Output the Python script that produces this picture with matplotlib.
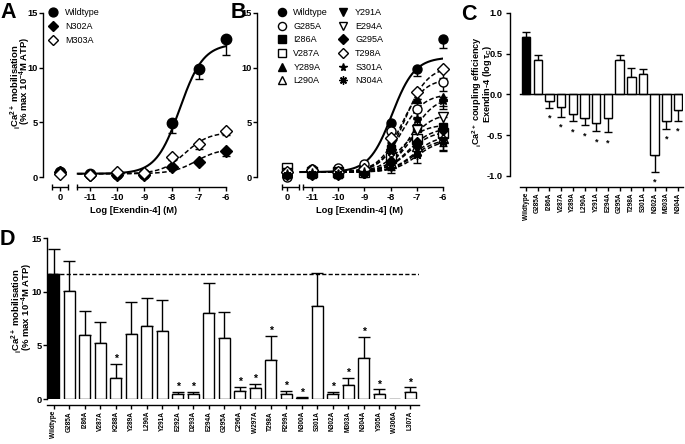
import numpy as np
import matplotlib
matplotlib.use('Agg')
import matplotlib.pyplot as plt

plt.rcParams['font.family'] = ['Liberation Sans', 'DejaVu Sans']
plt.rcParams['font.weight'] = 'bold'
plt.rcParams['mathtext.fontset'] = 'custom'
plt.rcParams['mathtext.rm'] = 'Liberation Sans:bold'
plt.rcParams['mathtext.bf'] = 'Liberation Sans:bold'
plt.rcParams['mathtext.it'] = 'Liberation Sans:bold:italic'
plt.rcParams['mathtext.default'] = 'bf'

# ---------------- data ----------------
log_conc = [-11, -10, -9, -8, -7, -6]
conc_tick_labels = ['0', '-11', '-10', '-9', '-8', '-7', '-6']

# Panel A: values at [basal, -11, -10, -9, -8, -7, -6]
a_names = ['Wildtype', 'N302A', 'M303A']
a_wt = [0.45, 0.25, 0.3, 0.25, 4.9, 9.9, 12.6]
a_wt_err = [0.2, 0.0, 0.0, 0.0, 0.9, 0.9, 1.4]
a_n302 = [0.5, 0.2, 0.2, 0.2, 0.9, 1.4, 2.4]
a_n302_err = [0.0, 0.0, 0.0, 0.0, 0.2, 0.2, 0.5]
a_m303 = [0.3, 0.2, 0.45, 0.4, 1.8, 3.0, 4.2]
a_m303_err = [0.0, 0.0, 0.0, 0.0, 0.2, 0.4, 0.4]
# fitted curve parameters (bottom, top, logEC50)
a_fit_bottom = [0.3, 0.3, 0.3]
a_fit_top = [12.2, 2.6, 4.1]
a_fit_ec50 = [-7.7, -7.1, -7.5]

# Panel B
b_names = ['Wildtype', 'G285A', 'I286A', 'V287A', 'Y289A', 'L290A',
           'Y291A', 'E294A', 'G295A', 'T298A', 'S301A', 'N304A']
b_wt = [0.3, 0.3, 0.3, 0.35, 4.9, 9.9, 12.6]
b_g285 = [0.0, 0.7, 0.8, 1.2, 4.2, 6.2, 8.7]
b_i286 = [0.3, 0.3, 0.3, 0.5, 2.6, 4.5, 4.6]
b_v287 = [0.8, 0.5, 0.5, 0.5, 1.7, 3.5, 4.0]
b_y289 = [0.3, 0.4, 0.3, 0.6, 3.2, 7.1, 7.3]
b_l290 = [0.5, 0.5, 0.5, 0.6, 1.3, 2.8, 3.6]
b_y291 = [0.3, 0.3, 0.3, 0.4, 1.1, 2.6, 3.3]
b_e294 = [0.4, 0.5, 0.4, 0.5, 2.1, 4.3, 5.5]
b_g295 = [0.2, 0.2, 0.2, 0.4, 1.5, 3.2, 4.3]
b_t298 = [0.5, 0.6, 0.5, 0.7, 3.6, 7.8, 9.9]
b_s301 = [0.3, 0.4, 0.3, 0.5, 2.4, 5.3, 7.0]
b_n304 = [0.2, 0.3, 0.3, 0.3, 0.9, 2.0, 3.2]
b_err = [0.0, 0.0, 0.0, 0.0, 0.5, 0.7, 0.8]
b_fit_top = [10.95, 9.0, 4.8, 4.2, 7.6, 3.8, 3.5, 5.8, 4.5, 10.1, 7.3, 3.4]
b_fit_ec50 = [-7.95, -7.6, -7.6, -7.3, -7.6, -7.1, -7.1, -7.3, -7.3, -7.45, -7.2, -7.0]
b_fit_bottom = 0.45

# Panel C
c_labels = ['Wildtype', 'G285A', 'I286A', 'V287A', 'Y289A', 'L290A', 'Y291A',
            'E294A', 'G295A', 'T298A', 'S301A', 'N302A', 'M303A', 'N304A']
c_vals = [0.70, 0.42, -0.08, -0.15, -0.24, -0.29, -0.35, -0.29, 0.42, 0.21, 0.25, -0.74, -0.33, -0.19]
c_err = [0.07, 0.07, 0.08, 0.12, 0.09, 0.09, 0.10, 0.17, 0.07, 0.12, 0.06, 0.21, 0.09, 0.13]
c_sig = [0, 0, 1, 1, 1, 1, 1, 1, 0, 0, 0, 1, 1, 1]

# Panel D
d_labels = ['Wildtype', 'G285A', 'I286A', 'V287A', 'K288A', 'Y289A', 'L290A', 'Y291A',
            'E292A', 'D293A', 'E294A', 'G295A', 'C296A', 'W297A', 'T298A', 'R299A',
            'N300A', 'S301A', 'N302A', 'M303A', 'N304A', 'Y305A', 'W306A', 'L307A']
d_vals = [11.6, 10.1, 6.0, 5.2, 2.0, 6.1, 6.8, 6.3, 0.45, 0.45, 8.0, 5.7, 0.7, 1.05,
          3.6, 0.5, 0.1, 8.7, 0.45, 1.3, 3.8, 0.45, 0.0, 0.63]
d_err = [2.4, 2.8, 2.2, 2.0, 1.3, 2.9, 2.6, 2.9, 0.2, 0.2, 2.8, 2.4, 0.45, 0.35,
         2.3, 0.25, 0.05, 3.0, 0.2, 0.7, 2.0, 0.45, 0.0, 0.47]
d_sig = [0, 0, 0, 0, 1, 0, 0, 0, 1, 1, 0, 0, 1, 1, 1, 1, 1, 0, 1, 1, 1, 1, 0, 1]
d_wt_level = 11.6

# ---------------- helpers ----------------
W, H = 685, 444
fig = plt.figure(figsize=(W / 100, H / 100), dpi=100)


def add_ax(l, r, t, b):
    return fig.add_axes([l / W, 1 - b / H, (r - l) / W, (b - t) / H])


def logistic(x, bottom, top, ec50):
    return bottom + (top - bottom) / (1 + 10 ** (ec50 - x))


TICKFS = 6.7
LW_SP = 1.0
ROTFS = 4.7


def style_common(ax):
    for s in ['top', 'right']:
        ax.spines[s].set_visible(False)
    for s in ['left', 'bottom']:
        ax.spines[s].set_linewidth(LW_SP)
    ax.tick_params(direction='out', length=2.8, width=LW_SP, labelsize=TICKFS, pad=1.0)


def dose_axes(ax, xlim, basal_pos, seg0, seg1_start):
    style_common(ax)
    ax.set_xlim(*xlim)
    ax.set_ylim(0, 15)
    ax.set_yticks([0, 5, 10, 15])
    ax.spines['bottom'].set_position(('outward', 7.2))
    ax.spines['bottom'].set_bounds(seg1_start, -6)
    ax.set_xticks([basal_pos] + log_conc)
    ax.set_xticklabels(conc_tick_labels)
    ax.tick_params(axis='x', pad=1.5)
    ax.set_xticks([seg0[0], seg0[1], seg1_start], minor=True)
    ax.tick_params(axis='x', which='minor', direction='inout', length=4, width=LW_SP)
    tr = ax.spines['bottom'].get_spine_transform()
    ax.plot(seg0, [0, 0], transform=tr, color='black', lw=LW_SP, clip_on=False,
            solid_capstyle='butt')


def down_err(ax, x, y, e):
    x = np.asarray(x)
    y = np.asarray(y)
    e = np.asarray(e)
    m = e > 0
    ax.errorbar(x[m], y[m], yerr=[e[m], np.zeros(m.sum())], fmt='none',
                ecolor='black', elinewidth=1.0, capsize=3, capthick=1.0, clip_on=False,
                zorder=2)


# ---------------- Panel A ----------------
axA = add_ax(43, 226, 13, 177)
basalA = -12.1
dose_axes(axA, (-12.73, -6), basalA, (-12.4, -11.81), -11.48)
xA = [basalA] + log_conc
xc = np.linspace(-11.45, -6, 200)
a_series = [a_wt, a_n302, a_m303]
a_errs = [a_wt_err, a_n302_err, a_m303_err]
a_mk = [dict(marker='o', mfc='black'), dict(marker='D', mfc='black'),
        dict(marker='D', mfc='white')]
a_ms = [7.5, 6.0, 6.0]
for i in range(3):
    ls = '-' if i == 0 else (0, (3, 1.6))
    lw = 1.5 if i == 0 else 1.1
    axA.plot(xc, logistic(xc, a_fit_bottom[i], a_fit_top[i], a_fit_ec50[i]),
             color='black', lw=lw, linestyle=ls, zorder=1)
    down_err(axA, xA, a_series[i], a_errs[i])
    axA.plot(xA, a_series[i], linestyle='none', mec='black', mew=1.0, ms=a_ms[i],
             clip_on=False, zorder=3, label=a_names[i], **a_mk[i])
legA = axA.legend(loc='upper left', bbox_to_anchor=(48 / W, 1 - 8 / H),
                  bbox_transform=fig.transFigure, frameon=False, fontsize=6.5,
                  handlelength=1.0, handletextpad=0.9, labelspacing=0.55,
                  borderpad=0, borderaxespad=0, markerscale=0.85)
for t in legA.get_texts():
    t.set_fontweight('normal')

# ---------------- Panel B ----------------
axB = add_ax(257, 443, 13, 177)
basalB = -11.95
dose_axes(axB, (-13.1, -6), basalB, (-12.15, -11.5), -11.34)
xB = [basalB] + log_conc
b_series = [b_wt, b_g285, b_i286, b_v287, b_y289, b_l290, b_y291, b_e294,
            b_g295, b_t298, b_s301, b_n304]
b_mk = [('o', 'black'), ('o', 'white'), ('s', 'black'), ('s', 'white'),
        ('^', 'black'), ('^', 'white'), ('v', 'black'), ('v', 'white'),
        ('D', 'black'), ('D', 'white'), ('*', 'black'), ((8, 2, 0), 'black')]
b_ms = [6.5, 6.5, 5.8, 6.5, 6.2, 6.5, 6.2, 6.5, 5.2, 5.8, 6.5, 6.5]
for i in range(len(b_series)):
    ls = '-' if i == 0 else (0, (3, 1.6))
    lw = 1.5 if i == 0 else 1.1
    axB.plot(xc, logistic(xc, b_fit_bottom, b_fit_top[i], b_fit_ec50[i]),
             color='black', lw=lw, linestyle=ls, zorder=1)
for i in range(len(b_series)):
    down_err(axB, xB, b_series[i], b_err)
    mk, fc = b_mk[i]
    axB.plot(xB, b_series[i], linestyle='none', marker=mk, mfc=fc, mec='black',
             mew=1.0, ms=b_ms[i], clip_on=False, zorder=3, label=b_names[i])
legB = axB.legend(loc='upper left', bbox_to_anchor=(277 / W, 1 - 8 / H),
                  bbox_transform=fig.transFigure, frameon=False, fontsize=6.5, ncol=2,
                  handlelength=1.0, handletextpad=0.8, labelspacing=0.52,
                  columnspacing=1.2, borderpad=0, borderaxespad=0, markerscale=0.9)
for t in legB.get_texts():
    t.set_fontweight('normal')

# axis labels A/B
fig.text(134 / W, 1 - 210 / H, 'Log [Exendin-4] (M)', ha='center', va='center', fontsize=6.7)
fig.text(360 / W, 1 - 210 / H, 'Log [Exendin-4] (M)', ha='center', va='center', fontsize=6.7)
YL1 = r'${}_{i}$Ca$^{2+}$ mobilisation'
YL2 = r'(% max 10$^{-4}$M ATP)'
YLFS = 6.8
fig.text(15.5 / W, 1 - 87 / H, YL1, rotation=90, ha='center', va='center', fontsize=YLFS)
fig.text(25.5 / W, 1 - 81 / H, YL2, rotation=90, ha='center', va='center', fontsize=YLFS)

# ---------------- Panel C ----------------
axC = add_ax(510, 683, 13, 176)
style_common(axC)
xCpos = np.arange(len(c_labels))
axC.set_xlim(-1.37, 13.42)
axC.set_ylim(-1, 1)
axC.set_yticks([-1.0, -0.5, 0.0, 0.5, 1.0])
axC.set_yticklabels(['-1.0', '-0.5', '0.0', '0.5', '1.0'])
axC.spines['bottom'].set_position(('outward', 7.9))
axC.spines['bottom'].set_bounds(-0.5, 13.42)
axC.set_xticks(xCpos)
axC.set_xticklabels(c_labels, rotation=90, fontsize=ROTFS)
axC.tick_params(axis='y', pad=2.5)
c_colors = ['black'] + ['white'] * (len(c_labels) - 1)
axC.bar(xCpos, c_vals, width=0.72, color=c_colors, edgecolor='black', linewidth=1.0, zorder=2)
c_lo = [e if v < 0 else 0 for v, e in zip(c_vals, c_err)]
c_hi = [e if v >= 0 else 0 for v, e in zip(c_vals, c_err)]
axC.errorbar(xCpos, c_vals, yerr=[c_lo, c_hi], fmt='none', ecolor='black',
             elinewidth=1.0, capsize=2.8, capthick=1.0, zorder=1)
axC.plot([-0.5, 13.42], [0, 0], color='black', lw=1.0, zorder=3)
for x, v, e, s in zip(xCpos, c_vals, c_err, c_sig):
    if s:
        axC.text(x, v - e - 0.13, '*', ha='center', va='center', fontsize=6.5)
fig.text(477 / W, 1 - 92 / H, r'${}_{i}$Ca$^{2+}$ coupling efficiency', rotation=90,
         ha='center', va='center', fontsize=6.6)
fig.text(487 / W, 1 - 84 / H, r'Exendin-4 (log$\,\tau_{C}$)', rotation=90,
         ha='center', va='center', fontsize=6.6)

# ---------------- Panel D ----------------
axD = add_ax(47, 419, 238, 399)
style_common(axD)
xDpos = np.arange(len(d_labels))
axD.set_xlim(-0.45, 23.58)
axD.set_ylim(0, 15)
axD.set_yticks([0, 5, 10, 15])
axD.spines['bottom'].set_position(('outward', 4.3))
axD.set_xticks(xDpos)
axD.set_xticklabels(d_labels, rotation=90, fontsize=ROTFS)
axD.tick_params(axis='x', pad=1.5)
d_colors = ['black'] + ['white'] * (len(d_labels) - 1)
axD.bar(xDpos, d_vals, width=0.71, color=d_colors, edgecolor='black', linewidth=1.0,
        zorder=2)
m = np.asarray(d_err) > 0
axD.errorbar(xDpos[m], np.asarray(d_vals)[m], yerr=[np.zeros(m.sum()), np.asarray(d_err)[m]],
             fmt='none', ecolor='black', elinewidth=1.0, capsize=4, capthick=1.0, zorder=1)
axD.axhline(d_wt_level, color='black', lw=1.0, linestyle=(0, (3, 1.6)), zorder=0)
for x, v, e, s in zip(xDpos, d_vals, d_err, d_sig):
    if s:
        axD.text(x, v + e + 0.45, '*', ha='center', va='center', fontsize=7.5)
fig.text(17 / W, 1 - 311 / H, YL1, rotation=90, ha='center', va='center', fontsize=YLFS)
fig.text(27 / W, 1 - 307 / H, YL2, rotation=90, ha='center', va='center', fontsize=YLFS)

# panel letters
for lab, x, y in [('A', 0, 2), ('B', 231, 2), ('C', 461, 4), ('D', 0, 229)]:
    fig.text(x / W, 1 - y / H, lab, fontsize=15.5, fontweight='bold', ha='left', va='top')

fig.savefig('out.png', dpi=100)
